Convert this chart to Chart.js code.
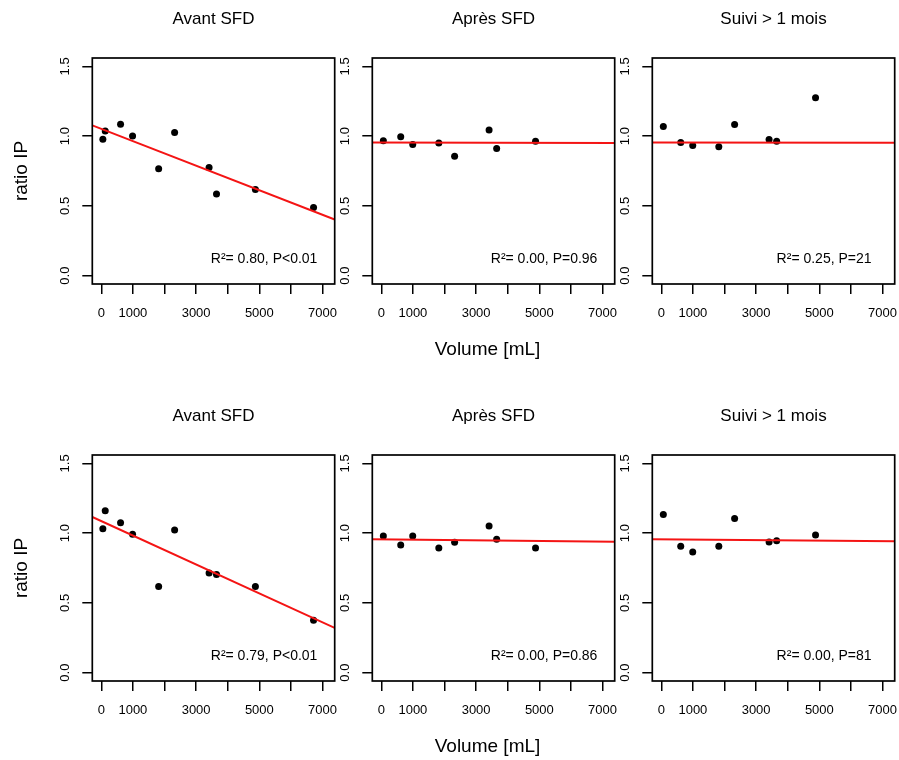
<!DOCTYPE html>
<html><head><meta charset="utf-8">
<script src="https://cdn.jsdelivr.net/npm/chart.js@4/dist/chart.umd.min.js"></script>
<style>
html,body{margin:0;padding:0;background:#fff;overflow:hidden;width:899px;height:760px;}
#wrap{position:relative;width:899px;height:760px;overflow:hidden;background:#fff;}
canvas{position:absolute;}
</style></head><body><div id="wrap"></div>
<script>
// ---------- data ----------
const panelTitles = ['Avant SFD', 'Après SFD', 'Suivi > 1 mois'];
const yAxisTitle = 'ratio IP';
const xAxisTitle = 'Volume [mL]';

const volumesAvant = [50, 125, 610, 990, 1815, 2320, 3410, 3645, 4875, 6715];
const volumesSuivi = [65, 615, 995, 1820, 2320, 3410, 3650, 4880];

const xTicks = [0, 1000, 2000, 3000, 4000, 5000, 6000, 7000];
const xTickLabels = ['0', '1000', '', '3000', '', '5000', '', '7000'];
const yTicks = [0, 0.5, 1.0, 1.5];
const yTickLabels = ['0.0', '0.5', '1.0', '1.5'];
const xRange = [-284, 7384];
const yRange = [-0.06, 1.56];

// row 1
const ratioAvant1 = [0.978, 1.036, 1.086, 1.000, 0.766, 1.026, 0.775, 0.586, 0.617, 0.488];
const ratioApres1 = [0.967, 0.995, 0.940, 0.950, 0.856, 1.043, 0.911, 0.964];
const ratioSuivi1 = [1.069, 0.955, 0.933, 0.923, 1.084, 0.976, 0.964, 1.275];
const fitAvant1 = [1.077, 0.402];
const fitApres1 = [0.955, 0.951];
const fitSuivi1 = [0.955, 0.952];
const stats1 = ['R²= 0.80, P<0.01', 'R²= 0.00, P=0.96', 'R²= 0.25, P=21'];

// row 2
const ratioAvant2 = [1.032, 1.161, 1.075, 0.992, 0.617, 1.023, 0.715, 0.703, 0.617, 0.376];
const ratioApres2 = [0.980, 0.914, 0.980, 0.894, 0.934, 1.051, 0.956, 0.894];
const ratioSuivi2 = [1.133, 0.906, 0.865, 0.906, 1.104, 0.937, 0.946, 0.987];
const fitAvant2 = [1.116, 0.321];
const fitApres2 = [0.956, 0.939];
const fitSuivi2 = [0.956, 0.941];
const stats2 = ['R²= 0.79, P<0.01', 'R²= 0.00, P=0.86', 'R²= 0.00, P=81'];

// ---------- build ----------
const FONT = '"Liberation Sans", Arial, Helvetica, sans-serif';
Chart.defaults.font.family = FONT;
Chart.defaults.color = '#000';

const rows = [
  { top: 0, height: 397,
    panels: [
      { vol: volumesAvant, ratio: ratioAvant1, fit: fitAvant1, stat: stats1[0] },
      { vol: volumesSuivi, ratio: ratioApres1, fit: fitApres1, stat: stats1[1] },
      { vol: volumesSuivi, ratio: ratioSuivi1, fit: fitSuivi1, stat: stats1[2] } ] },
  { top: 397, height: 363,
    panels: [
      { vol: volumesAvant, ratio: ratioAvant2, fit: fitAvant2, stat: stats2[0] },
      { vol: volumesSuivi, ratio: ratioApres2, fit: fitApres2, stat: stats2[1] },
      { vol: volumesSuivi, ratio: ratioSuivi2, fit: fitSuivi2, stat: stats2[2] } ] }
];

const BOX_TOP = 58, BOX_BOTTOM = 284, BOX_LEFT = 92.3, BOX_RIGHT = 334.7, CW = 340;

const decor = {
  id: 'decor',
  afterDraw(chart, args, o) {
    const { ctx, chartArea: ca } = chart;
    const y = chart.scales.y, x = chart.scales.x;
    ctx.save();
    ctx.strokeStyle = '#000';
    ctx.lineWidth = 1.7;
    ctx.strokeRect(ca.left, ca.top, ca.right - ca.left, ca.bottom - ca.top);
    ctx.fillStyle = '#000';
    ctx.textAlign = 'center';
    ctx.textBaseline = 'middle';
    // y tick labels (rotated like R)
    ctx.font = '13px ' + FONT;
    y.ticks.forEach((t, i) => {
      const py = y.getPixelForValue(t.value);
      ctx.save();
      ctx.translate(ca.left - 27.3, py);
      ctx.rotate(-Math.PI / 2);
      ctx.fillText(yTickLabels[i], 0, 0);
      ctx.restore();
    });
    // title
    ctx.font = '17px ' + FONT;
    ctx.fillText(o.title, (ca.left + ca.right) / 2, ca.top - 39);
    // stat text
    ctx.font = '14px ' + FONT;
    ctx.fillText(o.stat, x.getPixelForValue(5150), y.getPixelForValue(0.12));
    // axis titles
    ctx.font = '19px ' + FONT;
    if (o.yTitle) {
      ctx.save();
      ctx.translate(21.7, (ca.top + ca.bottom) / 2);
      ctx.rotate(-Math.PI / 2);
      ctx.fillText(o.yTitle, 0, 0);
      ctx.restore();
    }
    if (o.xTitle) {
      ctx.fillText(o.xTitle, (ca.left + ca.right) / 2 - 6, ca.bottom + 66);
    }
    ctx.restore();
  }
};

const wrap = document.getElementById('wrap');
rows.forEach((row, r) => {
  row.panels.forEach((p, c) => {
    const cv = document.createElement('canvas');
    cv.width = CW; cv.height = row.height;
    cv.style.left = (280 * c) + 'px';
    cv.style.top = row.top + 'px';
    cv.style.width = CW + 'px'; cv.style.height = row.height + 'px';
    wrap.appendChild(cv);
    const pts = p.vol.map((v, i) => ({ x: v, y: p.ratio[i] }));
    new Chart(cv, {
      type: 'scatter',
      data: {
        datasets: [
          { type: 'line', data: [{ x: xRange[0], y: p.fit[0] }, { x: xRange[1], y: p.fit[1] }],
            borderColor: '#f41414', borderWidth: 2, pointRadius: 0, fill: false, showLine: true, order: 0 },
          { data: pts, pointRadius: 3.5, pointBackgroundColor: '#000', pointBorderWidth: 0,
            pointBorderColor: '#000', order: 1 }
        ]
      },
      options: {
        responsive: false, animation: false, devicePixelRatio: 1,
        layout: { padding: { top: BOX_TOP, left: 0, bottom: 0, right: CW - BOX_RIGHT } },
        plugins: {
          legend: { display: false }, tooltip: { enabled: false }, title: { display: false },
          decor: { title: panelTitles[c], stat: p.stat,
                   yTitle: c === 0 ? yAxisTitle : null, xTitle: c === 1 ? xAxisTitle : null }
        },
        scales: {
          x: {
            type: 'linear', min: xRange[0], max: xRange[1],
            afterBuildTicks: s => { s.ticks = xTicks.map(v => ({ value: v })); },
            afterFit: s => { s.height = row.height - BOX_BOTTOM; s.paddingLeft = 0; s.paddingRight = 0; },
            ticks: { autoSkip: false, maxRotation: 0, minRotation: 0, padding: 11.5,
                     font: { size: 13, family: FONT }, color: '#000',
                     callback: (v, i) => xTickLabels[i] },
            grid: { drawOnChartArea: false, drawTicks: true, tickLength: 10, color: '#000', lineWidth: 1.5 },
            border: { display: false }
          },
          y: {
            type: 'linear', min: yRange[0], max: yRange[1],
            afterBuildTicks: s => { s.ticks = yTicks.map(v => ({ value: v })); },
            afterFit: s => { s.width = BOX_LEFT; s.paddingTop = 0; s.paddingBottom = 0; },
            ticks: { display: false },
            grid: { drawOnChartArea: false, drawTicks: true, tickLength: 10, color: '#000', lineWidth: 1.5 },
            border: { display: false }
          }
        }
      },
      plugins: [decor]
    });
  });
});
</script>
</body></html>
